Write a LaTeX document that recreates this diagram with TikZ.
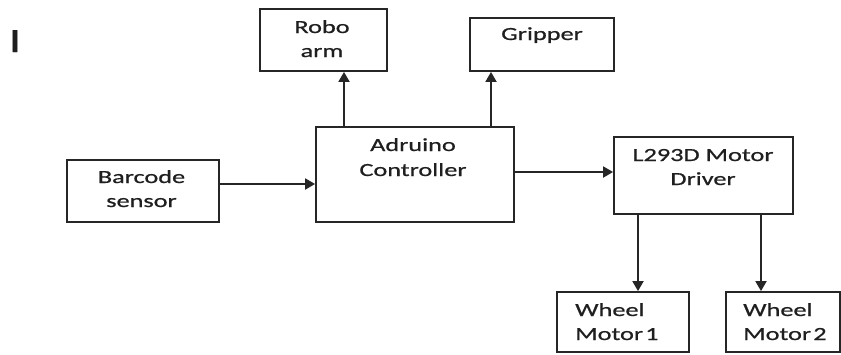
\documentclass[tikz,border=0pt]{standalone}
\usepackage{fontspec}
\setmainfont{Carlito}[FakeStretch=1.42,FakeBold=0.8]
\usetikzlibrary{arrows.meta}
\begin{document}
\begin{tikzpicture}[x=1pt,y=-1pt,
  box/.style={draw=black!85, line width=1.8pt, rectangle, inner sep=0pt},
  lbl/.style={inner sep=0pt, anchor=base, text=black!88, font=\fontsize{18.5pt}{24pt}\selectfont},
  lbll/.style={lbl, anchor=base west},
  arr/.style={draw=black!85, line width=1.8pt, -{Triangle[length=10pt,width=11pt]}}]
\useasboundingbox (0,0) rectangle (841,354);
% boxes
\node[box, minimum width=127pt, minimum height=62pt] (robo) at (323.5,40) {};
\node[box, minimum width=144pt, minimum height=53pt] (grip) at (542,44.5) {};
\node[box, minimum width=198pt, minimum height=95pt] (ctrl) at (415,174.5) {};
\node[box, minimum width=152pt, minimum height=62pt] (bar) at (143,191) {};
\node[box, minimum width=179pt, minimum height=77pt] (drv) at (703.5,175.5) {};
\node[box, minimum width=132pt, minimum height=60pt] (wa) at (623,322) {};
\node[box, minimum width=114pt, minimum height=60pt] (wb) at (783,322) {};
% texts
\node[lbl, font=\fontsize{34pt}{34pt}\selectfont] (stray) at (15,52) {I};
\node[lbl] (t1) at (322,33) {Robo};
\node[lbl] (t2) at (322,57) {arm};
\node[lbl] (t3) at (542,40) {Gripper};
\node[lbl] (t4) at (413,151) {Adruino};
\node[lbl] (t5) at (413,176) {Controller};
\node[lbl] (t6) at (141.5,183) {Barcode};
\node[lbl] (t7) at (141.5,207) {sensor};
\node[lbl] (t8) at (703,161) {L293D Motor};
\node[lbl] (t9) at (703,185) {Driver};
\node[lbll] (t10) at (575,316) {Wheel};
\node[lbll] (t11) at (575,340) {Motor\hspace{0.12em}1};
\node[lbll] (t12) at (743,316) {Wheel};
\node[lbll] (t13) at (743,340) {Motor\hspace{0.12em}2};
% connector guides
\coordinate (ya) at (0,184);
\coordinate (yb) at (0,172);
\coordinate (xa) at (344,0);
\coordinate (xb) at (491,0);
\coordinate (xc) at (638,0);
\coordinate (xd) at (761,0);
% connectors
\draw[arr] (bar.east |- ya) -- (ctrl.west |- ya);
\draw[arr] (ctrl.north -| xa) -- (robo.south -| xa);
\draw[arr] (ctrl.north -| xb) -- (grip.south -| xb);
\draw[arr] (ctrl.east |- yb) -- (drv.west |- yb);
\draw[arr] (drv.south -| xc) -- (wa.north -| xc);
\draw[arr] (drv.south -| xd) -- (wb.north -| xd);
\end{tikzpicture}
\end{document}
